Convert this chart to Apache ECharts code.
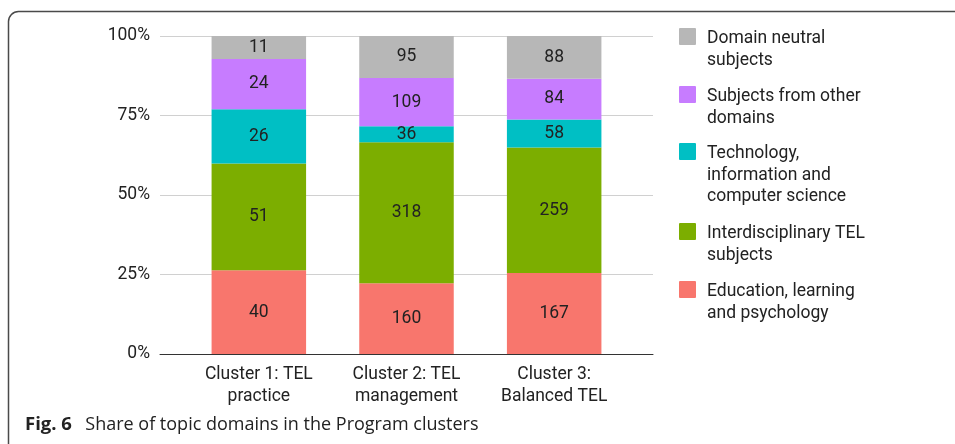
<!DOCTYPE html>
<html>
<head>
<meta charset="utf-8">
<script src="https://cdn.jsdelivr.net/npm/echarts@6/dist/echarts.min.js"></script>
<style>
html,body{margin:0;padding:0;background:#fff;}
#chart{width:955px;height:444px;}
</style>
</head>
<body>
<div id="chart"></div>
<script>
const categories = ['Cluster 1: TEL\npractice', 'Cluster 2: TEL\nmanagement', 'Cluster 3:\nBalanced TEL'];
const seriesNames = ['Education, learning\nand psychology', 'Interdisciplinary TEL\nsubjects', 'Technology,\ninformation and\ncomputer science', 'Subjects from other\ndomains', 'Domain neutral\nsubjects'];
const educationCounts = [40, 160, 167];
const interdisciplinaryCounts = [51, 318, 259];
const technologyCounts = [26, 36, 58];
const otherDomainCounts = [24, 109, 84];
const neutralCounts = [11, 95, 88];
const yTickLabels = ['0%', '25%', '50%', '75%', '100%'];
const colors = ['#F8766D', '#7CAE00', '#00BFC4', '#C77CFF', '#B7B7B7'];

const allCounts = [educationCounts, interdisciplinaryCounts, technologyCounts, otherDomainCounts, neutralCounts];
const totals = categories.map((_, i) => allCounts.reduce((s, arr) => s + arr[i], 0));

const font = 'Roboto';
const fs = 17.5;
const lh = 21.5;
// legend: one component per entry so that the icon sits beside the first text line
const legendTops = [281, 223, 143, 86, 28]; // icon tops, in series order
const legends = seriesNames.map((name, k) => {
  const n = name.split('\n').length;
  const h = n * lh;
  return {
    orient: 'vertical', left: 679, top: legendTops[k], padding: 0,
    itemWidth: 17, itemHeight: h, itemGap: 0,
    icon: 'path://M1,0L16,0Q17,0 17,1L17,16Q17,17 16,17L1,17Q0,17 0,16L0,1Q0,0 1,0ZM0,' + h + 'L0,' + h,
    data: [name],
    textStyle: { fontFamily: font, fontSize: fs, color: '#222', lineHeight: lh, padding: [0, 0, 0, 6] }
  };
});

const chart = echarts.init(document.getElementById('chart'));
chart.setOption({
  animation: false,
  textStyle: { fontFamily: font },
  graphic: [
    { type: 'rect', shape: { x: 8.5, y: 11.5, width: 1000, height: 500, r: 10 },
      style: { fill: 'none', stroke: '#4a4a4a', lineWidth: 1.5 }, z: 100 },
    { type: 'text', left: 25, top: 415,
      style: { text: '{b|Fig. 6}  Share of topic domains in the Program clusters',
        font: '18px "Open Sans"', fill: '#222',
        rich: { b: { fontFamily: 'Open Sans', fontSize: 18.5, fontWeight: 'bold', fill: '#222', padding: [0, 4, 0, 0] } } } }
  ],
  grid: [
    { left: 185, right: 327, top: 36, bottom: 90 },
    { left: 160, right: 302, top: 36, bottom: 90 }
  ],
  xAxis: [
    { type: 'category', gridIndex: 0, data: categories,
      axisLine: { show: false }, axisTick: { show: false },
      axisLabel: { fontFamily: font, fontSize: fs, color: '#222', lineHeight: lh, margin: 10 } },
    { type: 'value', gridIndex: 1, min: 0, max: 1, show: true,
      axisLine: { show: true, onZero: false, lineStyle: { color: '#333', width: 1 } },
      axisTick: { show: false }, axisLabel: { show: false }, splitLine: { show: false } }
  ],
  yAxis: [
    { type: 'value', gridIndex: 0, min: 0, max: 100, show: false, splitLine: { show: false } },
    { type: 'value', gridIndex: 1, min: 0, max: 100, interval: 25,
      axisLine: { show: false }, axisTick: { show: false },
      axisLabel: { fontFamily: font, fontSize: fs, color: '#222', margin: 10,
        formatter: (v) => yTickLabels[Math.round(v / 25)] },
      splitLine: { lineStyle: { color: '#d0d0d0', width: 1 } } }
  ],
  legend: legends,
  series: allCounts.map((arr, k) => ({
    name: seriesNames[k], type: 'bar', stack: 'total', xAxisIndex: 0, yAxisIndex: 0,
    barWidth: '64%',
    itemStyle: { color: colors[k] },
    label: { show: true, position: 'inside', fontFamily: font, fontSize: fs, color: '#222',
      formatter: (p) => String(arr[p.dataIndex]) },
    data: arr.map((v, i) => v / totals[i] * 100)
  }))
});
</script>
</body>
</html>
